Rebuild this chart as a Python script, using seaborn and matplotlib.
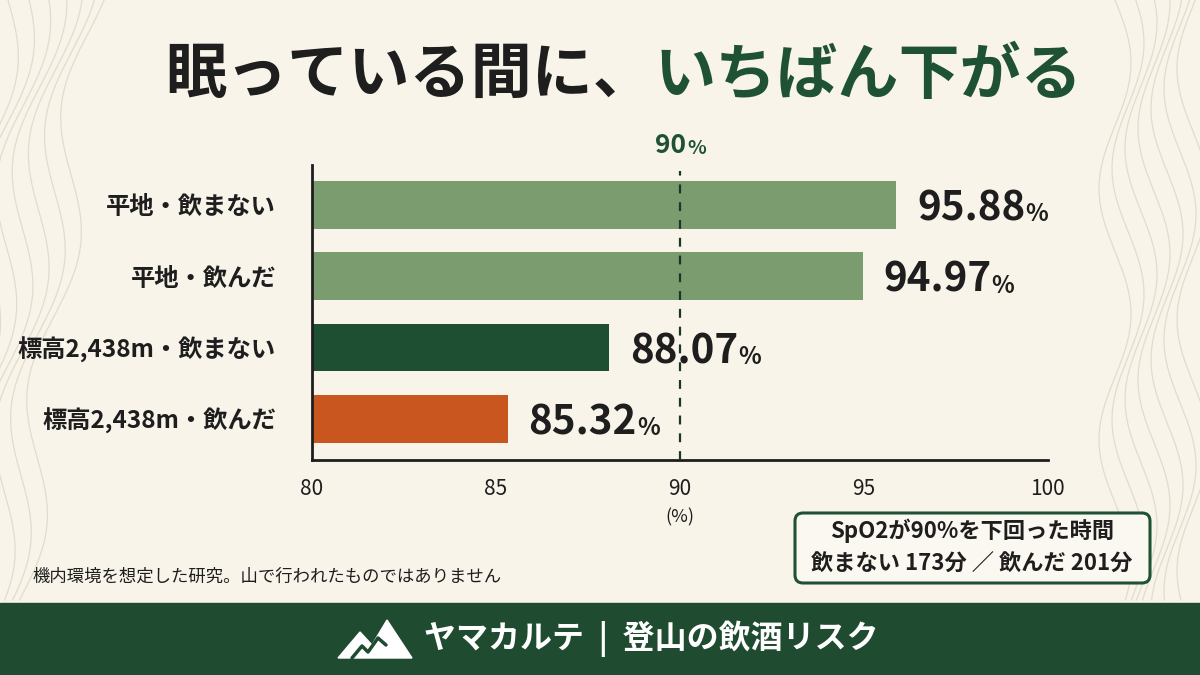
import numpy as np
import pandas as pd
import matplotlib
matplotlib.use("Agg")
import matplotlib.pyplot as plt
import seaborn as sns
from matplotlib.patches import FancyBboxPatch, Rectangle, Polygon

# データ
categories = ["平地・飲まない", "平地・飲んだ", "標高2,438m・飲まない", "標高2,438m・飲んだ"]
spo2 = [95.88, 94.97, 88.07, 85.32]
bar_colors = ["#7b9c6f", "#7b9c6f", "#1e4f33", "#c9561e"]
x_ticks = [80, 85, 90, 95, 100]
threshold = 90
minutes_no_drink = 173
minutes_drink = 201

BG = "#f8f4ea"
GREEN = "#1f5234"
DARK = "#1e1e1e"

sns.set_theme(style="white")
plt.rcParams['font.family'] = ['Noto Sans CJK JP', 'DejaVu Sans']

fig = plt.figure(figsize=(12, 6.75), dpi=100, facecolor=BG)

# 背景用（ピクセル座標）
bg = fig.add_axes([0, 0, 1, 1], zorder=0)
bg.set_xlim(0, 1200)
bg.set_ylim(675, 0)
bg.axis("off")
bg.set_facecolor(BG)

# 等高線風の飾り
yy = np.linspace(0, 600, 200)
for k in range(7):
    bg.plot(8 + 14 * k + 18 * np.sin(yy / 45 + k * 0.4) - yy * 0.12, yy,
            color="#e2dccb", lw=0.9, zorder=0)
    bg.plot(1115 + 13 * k + 16 * np.sin(yy / 40 + k * 0.5), yy,
            color="#e2dccb", lw=0.9, zorder=0)

# フッター
bg.add_patch(Rectangle((0, 603), 1200, 72, color="#1f4b31", zorder=1))
bg.add_patch(Polygon([(338, 658), (360, 632), (372, 645), (387, 620), (412, 658)],
                     closed=True, color="white", zorder=2))
bg.plot([352, 362, 368, 378, 386], [658, 646, 652, 638, 645], color="#1f4b31", lw=2.5, zorder=3)
bg.text(424, 639, "ヤマカルテ  |  登山の飲酒リスク", fontsize=23, fontweight="bold",
        color="white", va="center", ha="left", zorder=3)

# 注記
bg.text(32, 577, "機内環境を想定した研究。山で行われたものではありません", fontsize=12.5,
        color=DARK, va="center", ha="left")

# 右下のボックス
bg.add_patch(FancyBboxPatch((795, 513), 355, 70, boxstyle="round,pad=0,rounding_size=8",
                            facecolor="#fbf8f1", edgecolor=GREEN, lw=2.2, zorder=2))
bg.text(972, 531, "SpO2が90%を下回った時間", fontsize=16, fontweight="bold",
        color=DARK, ha="center", va="center", zorder=3)
bg.text(972, 564, f"飲まない {minutes_no_drink}分 ／ 飲んだ {minutes_drink}分", fontsize=16,
        fontweight="bold", color=DARK, ha="center", va="center", zorder=3)

# メインの棒グラフ
ax = fig.add_axes([0.26, 0.3185, 0.613, 0.4370], zorder=2)
ax.set_facecolor("none")
df = pd.DataFrame({"label": categories, "value": spo2})
sns.barplot(data=df, x="value", y="label", hue="label", palette=bar_colors, saturation=1,
            legend=False, width=0.67, linewidth=0, orient="h", ax=ax)

ax.set_xlim(80, 100)
ax.set_ylim(3.58, -0.56)
ax.set_xticks(x_ticks)
ax.set_xticklabels([str(t) for t in x_ticks], fontsize=15, color=DARK)
ax.tick_params(axis="x", direction="inout", length=10, width=1.8, color=DARK, pad=8)
ax.tick_params(axis="y", length=0, pad=26)
for lbl in ax.get_yticklabels():
    lbl.set_fontsize(17.5)
    lbl.set_fontweight("bold")
    lbl.set_color(DARK)
ax.set_ylabel("")
ax.set_xlabel("(%)", fontsize=13, color=DARK, labelpad=6)
for side in ["top", "right"]:
    ax.spines[side].set_visible(False)
for side in ["left", "bottom"]:
    ax.spines[side].set_color(DARK)
    ax.spines[side].set_linewidth(2)

# 90%ライン
ax.axvline(threshold, ymin=0, ymax=0.98, color="#1d3527", lw=1.6, ls=(0, (4, 4)), zorder=3)
t90 = ax.annotate(f"{threshold}", xy=(threshold, 1.0), xycoords=("data", "axes fraction"),
                  xytext=(-7, 4), textcoords="offset points", ha="center", va="bottom",
                  fontsize=19, fontweight="bold", color=GREEN, annotation_clip=False)
ax.annotate("%", xy=(1, 0), xycoords=t90, xytext=(1, 1.2), textcoords="offset points",
            ha="left", va="bottom", fontsize=14, fontweight="bold", color=GREEN,
            annotation_clip=False)

# 値ラベル
for i, v in enumerate(spo2):
    t = ax.annotate(f"{v:.2f}", xy=(v, i), xytext=(15, -3), textcoords="offset points",
                    ha="left", va="center", fontsize=29, fontweight="bold", color=DARK,
                    annotation_clip=False)
    ax.annotate("%", xy=(1, 0), xycoords=t, xytext=(0, 2.4), textcoords="offset points",
                ha="left", va="bottom", fontsize=17, fontweight="bold", color=DARK,
                annotation_clip=False)

# タイトル（2色）
t1 = fig.text(0, 0.888, "眠っている間に、", fontsize=44, fontweight="bold", color=DARK, va="center")
t2 = fig.text(0, 0.888, "いちばん下がる", fontsize=44, fontweight="bold", color=GREEN, va="center")
fig.canvas.draw()
r = fig.canvas.get_renderer()
w1 = t1.get_window_extent(r).width
w2 = t2.get_window_extent(r).width
start = 1248 / 2 - (w1 + w2) / 2
t1.set_x(start / 1200)
t2.set_x((start + w1) / 1200)

plt.savefig("out.png", dpi=100, facecolor=BG)
